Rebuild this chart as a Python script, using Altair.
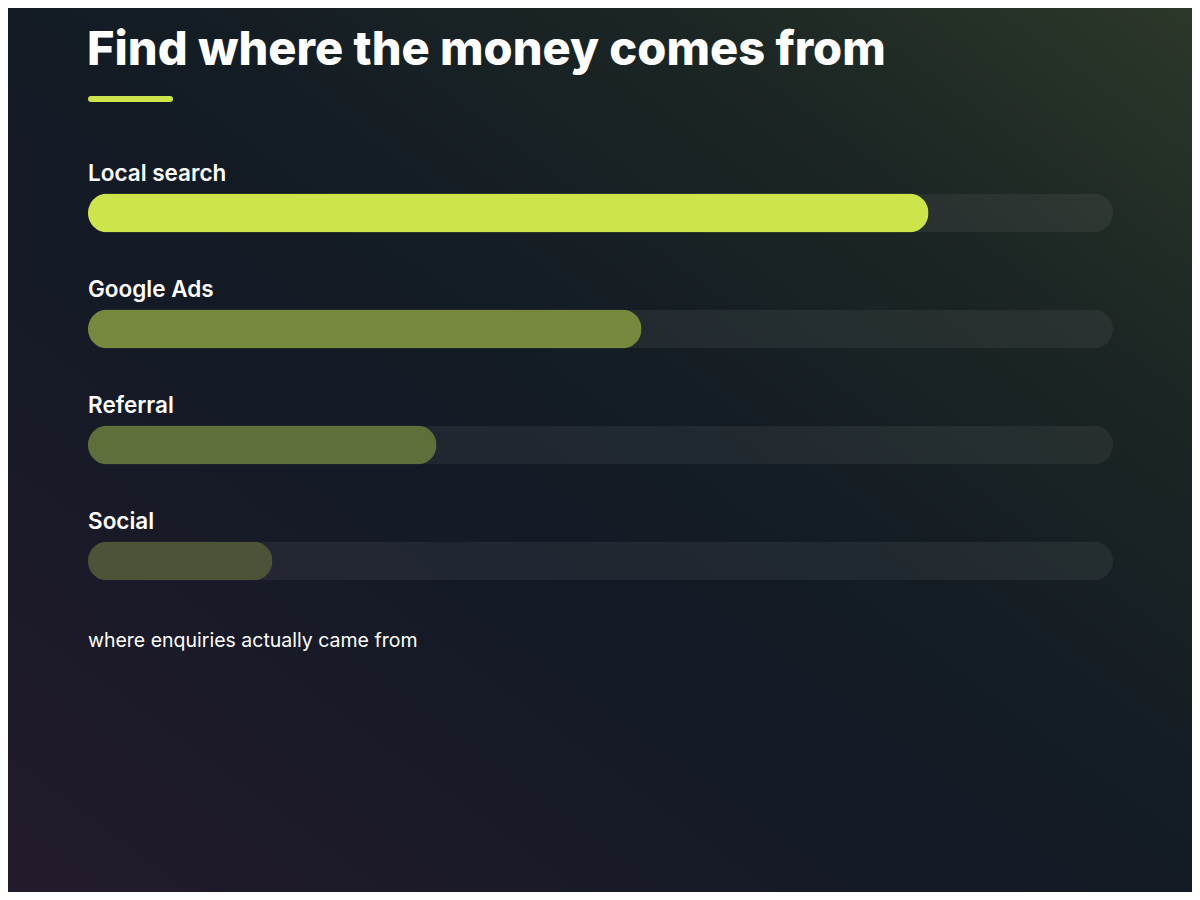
import altair as alt
import pandas as pd

# data (share of enquiries, % of full track)
channels = ["Local search", "Google Ads", "Referral", "Social"]
shares = [82, 54, 34, 18]
bar_colors = ["#cde44b", "#77893d", "#5f6f3a", "#4c5337"]
track_max = 100

title_text = "Find where the money comes from"
caption_text = "where enquiries actually came from"

W, H = 1184, 884

df = pd.DataFrame({
    "channel": channels,
    "share": shares,
    "full": [track_max] * len(channels),
    "zero": [0] * len(channels),
    "color": bar_colors,
})

x_scale = alt.Scale(domain=[0, track_max], range=[80, 1105], nice=False, zero=True)
y_scale = alt.Scale(domain=channels, range=[147, 611], paddingInner=0, paddingOuter=0)

# background: diagonal gradient, greenish top right -> dark -> purple bottom left
bg = alt.Chart(pd.DataFrame({"a": [0]})).mark_rect(
    color=alt.Gradient(
        gradient="linear",
        x1=1, y1=0, x2=0, y2=1,
        stops=[
            alt.GradientStop(color="#2c3829", offset=0),
            alt.GradientStop(color="#1c2624", offset=0.22),
            alt.GradientStop(color="#131b24", offset=0.48),
            alt.GradientStop(color="#141a26", offset=0.62),
            alt.GradientStop(color="#231a2c", offset=1),
        ],
    )
).encode(
    x=alt.value(0), x2=alt.value(W), y=alt.value(0), y2=alt.value(H)
)

base = alt.Chart(df)
y_enc = alt.Y("channel:N", scale=y_scale, axis=None, sort=channels)

track = base.mark_bar(size=39, cornerRadius=19.5, color="#ffffff", opacity=0.06).encode(
    x=alt.X("full:Q", scale=x_scale, axis=None),
    y=y_enc,
)

bars = base.mark_bar(size=39, cornerRadius=19.5).encode(
    x=alt.X("share:Q", scale=x_scale, axis=None),
    y=y_enc,
    color=alt.Color("color:N", scale=None, legend=None),
    tooltip=["channel", "share"],
)

labels = base.mark_text(
    align="left", baseline="alphabetic", dy=-32,
    font="Inter", fontSize=22.5, fontWeight=600, color="#ffffff",
).encode(
    x=alt.X("zero:Q", scale=x_scale, axis=None),
    y=y_enc,
    text="channel:N",
)

title = alt.Chart(pd.DataFrame({"t": [title_text]})).mark_text(
    align="left", baseline="alphabetic", font="Inter", fontSize=47,
    fontWeight=800, color="#ffffff",
).encode(x=alt.value(79), y=alt.value(57), text="t:N")

accent = alt.Chart(pd.DataFrame({"a": [0]})).mark_rule(
    color="#cde44b", strokeWidth=6, strokeCap="round"
).encode(x=alt.value(83), x2=alt.value(162), y=alt.value(91))

caption = alt.Chart(pd.DataFrame({"t": [caption_text]})).mark_text(
    align="left", baseline="middle", font="Inter", fontSize=19.5,
    fontWeight=400, color="#ffffff",
).encode(x=alt.value(80), y=alt.value(633), text="t:N")

chart = alt.layer(bg, track, bars, labels, title, accent, caption).properties(
    width=W, height=H,
    padding=0,
    autosize=alt.AutoSizeParams(type="none"),
    background="#131b24",
).configure_view(stroke=None)

chart.save("out.html", embed_options={"renderer": "svg", "actions": False})
